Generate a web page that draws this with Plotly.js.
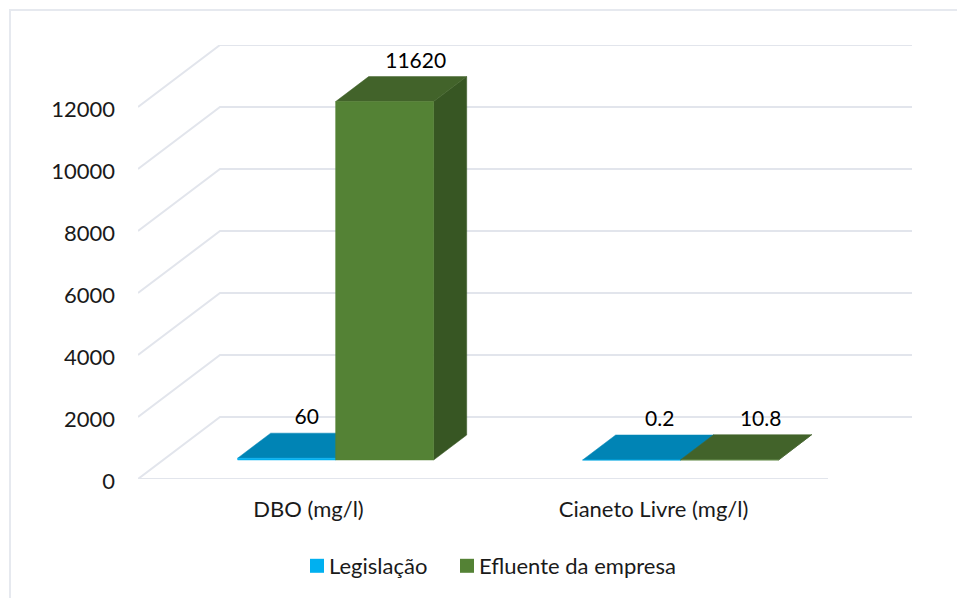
<!DOCTYPE html>
<html>
<head>
<meta charset="utf-8">
<script src="https://cdn.plot.ly/plotly-3.0.1.min.js"></script>
<style>html,body{margin:0;padding:0;background:#fff}</style>
</head>
<body>
<div id="chart" style="width:957px;height:598px"></div>
<script>
// Chart values
const categories = ['DBO (mg/l)', 'Cianeto Livre (mg/l)'];
const legislacao = [60, 0.2];
const efluente = [11620, 10.8];
const yTicks = [0, 2000, 4000, 6000, 8000, 10000, 12000];

// Plot frame, in pixels
const W = 957, H = 598;
const plotL = 138, plotR = 912, plotT = 45, plotB = 479;
const catPx = 345;                 // width of one category on the front plane
const unitsPerPx = 14000 / (plotB - plotT);

// Oblique projection: one full unit of depth moves a point right and up
const depthX = 82 / catPx;
const depthY = 62 * unitsPerPx;
const project = (x, v, d) => [x + d * depthX, v + d * depthY];

// Bar box geometry, in category units and depth fractions
const barWidth = 98 / catPx;
const nearDepth = 19 / 62;
const farDepth = 44 / 62;
const heightScale = 0.995;         // slight foreshortening of the bars

const BLUE = {front: '#00B0F0', top: '#0084B5', side: '#00688F'};
const GREEN = {front: '#548235', top: '#42632A', side: '#375623'};
const GRID = '#E2E5EC';
const FONT = 'Lato, Carlito, sans-serif';
const FONT_SIZE = 22;

function poly(points, color) {
  return {
    type: 'scatter', mode: 'lines', fill: 'toself', fillcolor: color,
    x: points.map(p => p[0]), y: points.map(p => p[1]),
    line: {color, width: 0.5},
    hoverinfo: 'skip', showlegend: false
  };
}

// Front, top and side faces of one bar box
function box(x0, value, c) {
  const x1 = x0 + barWidth, h = value * heightScale;
  return [
    poly([project(x1, 0, nearDepth), project(x1, 0, farDepth), project(x1, h, farDepth), project(x1, h, nearDepth), project(x1, 0, nearDepth)], c.side),
    poly([project(x0, h, nearDepth), project(x1, h, nearDepth), project(x1, h, farDepth), project(x0, h, farDepth), project(x0, h, nearDepth)], c.top),
    poly([project(x0, 0, nearDepth), project(x1, 0, nearDepth), project(x1, h, nearDepth), project(x0, h, nearDepth), project(x0, 0, nearDepth)], c.front)
  ];
}

// Wall and floor grid: a diagonal on the side wall, then a line along the back wall
const gridX = [], gridY = [];
yTicks.forEach(v => {
  gridX.push(0, depthX, (plotR - plotL) / catPx, null);
  gridY.push(v, v + depthY, v + depthY, null);
});
gridX.push(0, 2);
gridY.push(0, 0);

const traces = [{
  type: 'scatter', mode: 'lines', x: gridX, y: gridY,
  line: {color: GRID, width: 2}, hoverinfo: 'skip', showlegend: false, cliponaxis: false
}];

const centers = categories.map((_, i) => i + 0.5);
centers.forEach((c, i) => {
  traces.push(...box(c - barWidth, legislacao[i], BLUE));
  traces.push(...box(c, efluente[i], GREEN));
});

// Value labels sit above the far edge of each box
const labelLift = 14 * unitsPerPx;
const labelNudge = {leg: [-13 / catPx, -5 / catPx], efl: [-2 / catPx, -2 / catPx]};
function labelTrace(vals, offset, nudge) {
  const pts = vals.map((v, i) => project(centers[i] + offset + nudge[i], v * heightScale, farDepth));
  return {
    type: 'scatter', mode: 'text', x: pts.map(p => p[0]), y: pts.map(p => p[1] + labelLift),
    text: vals.map(String), textposition: 'middle center',
    textfont: {family: FONT, size: 21, color: '#000'},
    hoverinfo: 'skip', showlegend: false, cliponaxis: false
  };
}
traces.push(labelTrace(legislacao, -barWidth / 2, labelNudge.leg));
traces.push(labelTrace(efluente, barWidth / 2, labelNudge.efl));

// Each legend entry has its own legend so the two can be spaced freely
[['Legislação', BLUE.front, 'legend'], ['Efluente da empresa', GREEN.front, 'legend2']].forEach(([name, color, legend]) => {
  traces.push({
    type: 'scatter', mode: 'markers', name, legend, x: [null], y: [null],
    marker: {symbol: 'square', size: 14, color, line: {width: 0}}, hoverinfo: 'skip'
  });
});

const px = x => (x - plotL) / (plotR - plotL);
const py = y => (plotB - y) / (plotB - plotT);

const legendAt = left => ({
  orientation: 'h', xref: 'paper', yref: 'paper',
  x: px(left), xanchor: 'left',
  y: py(545), yanchor: 'top',
  font: {family: FONT, size: FONT_SIZE, color: '#1a1a1a'},
  itemwidth: 30, bgcolor: 'rgba(0,0,0,0)'
});

const layout = {
  width: W, height: H, autosize: false,
  margin: {l: plotL, r: W - plotR, t: plotT, b: H - plotB, pad: 0, autoexpand: false},
  paper_bgcolor: '#fff', plot_bgcolor: 'rgba(0,0,0,0)',
  font: {family: FONT, size: FONT_SIZE, color: '#1a1a1a'},
  showlegend: true,
  legend: legendAt(289),
  legend2: legendAt(439),
  xaxis: {
    range: [0, (plotR - plotL) / catPx], showgrid: false, zeroline: false, showline: false,
    tickmode: 'array', tickvals: centers, ticktext: categories, ticks: '',
    ticklabelstandoff: 15, ticklabelshift: -2, tickfont: {family: FONT, size: FONT_SIZE, color: '#1a1a1a'}, fixedrange: true
  },
  yaxis: {
    range: [0, 14000], showgrid: false, zeroline: false, showline: false,
    tickmode: 'array', tickvals: yTicks, ticktext: yTicks.map(String), ticks: '',
    ticklabelstandoff: 22, ticklabelshift: 2, tickfont: {family: FONT, size: FONT_SIZE, color: '#1a1a1a'}, fixedrange: true
  },
  shapes: [{
    type: 'path', xref: 'paper', yref: 'paper', layer: 'below',
    path: `M ${px(10)} ${py(H)} L ${px(10)} ${py(10)} L ${px(W)} ${py(10)}`,
    line: {color: '#E6E9EF', width: 2}
  }]
};

// Legend swatches sit closer to their text than the default spacing allows
const SWATCH_SHIFT = 8;
Plotly.newPlot('chart', traces, layout, {displayModeBar: false, staticPlot: true}).then(gd => {
  gd.querySelectorAll('.legendpoints').forEach(n => n.setAttribute('transform', `translate(${SWATCH_SHIFT},0)`));
});
</script>
</body>
</html>
